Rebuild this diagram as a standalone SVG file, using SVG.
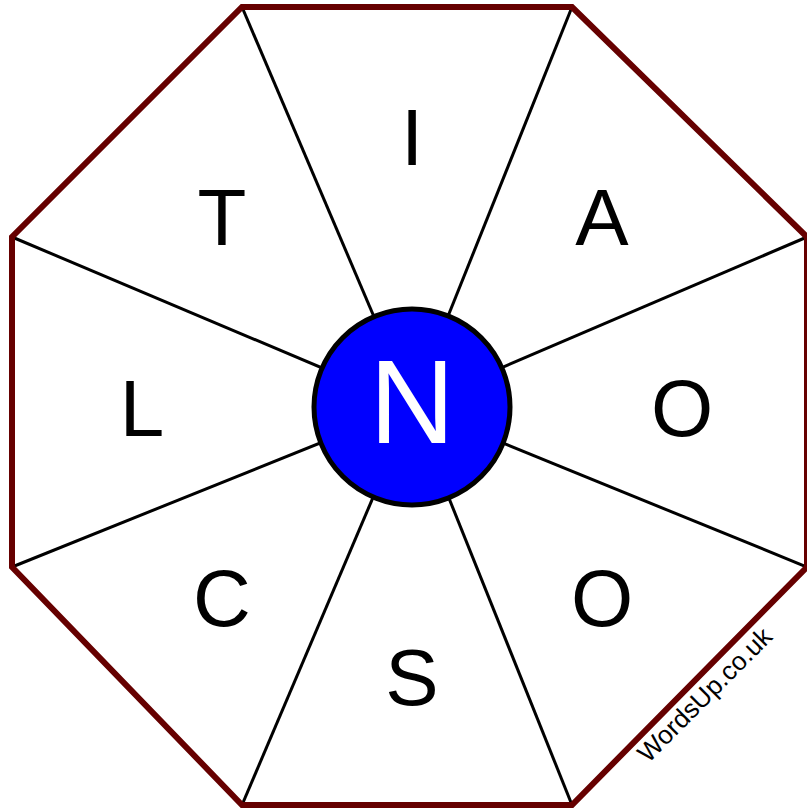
<svg xmlns="http://www.w3.org/2000/svg" width="807" height="810" viewBox="0 0 807 810">
<style>
.spoke{stroke:#000;stroke-width:3;fill:none}
.oct{fill:none;stroke:#660000;stroke-width:6;stroke-linejoin:miter}
.let{font-family:"Liberation Sans",Arial,sans-serif;font-size:80px;fill:#000;text-anchor:middle}
.mid{font-family:"Liberation Sans",Arial,sans-serif;font-size:118px;fill:#fff;text-anchor:middle}
.wm{font-family:"Liberation Sans",Arial,sans-serif;font-size:26px;fill:#000;text-anchor:middle}
</style>
<rect width="807" height="810" fill="#fff"/>
<g id="connectors">
<line class="spoke" x1="412" y1="406" x2="242" y2="7"/>
<line class="spoke" x1="412" y1="406" x2="572" y2="7"/>
<line class="spoke" x1="412" y1="406" x2="807" y2="237"/>
<line class="spoke" x1="412" y1="406" x2="807" y2="567"/>
<line class="spoke" x1="412" y1="406" x2="572" y2="805"/>
<line class="spoke" x1="412" y1="406" x2="242" y2="805"/>
<line class="spoke" x1="412" y1="406" x2="12" y2="567"/>
<line class="spoke" x1="412" y1="406" x2="12" y2="237"/>
</g>
<g id="octagon"><polygon class="oct" points="242,7 572,7 807,237 807,567 572,805 242,805 12,567 12,237"/></g>
<g id="center"><circle cx="412" cy="407" r="98" fill="#0000ff" stroke="#000" stroke-width="5"/><text class="mid" x="412" y="443">N</text></g>
<g id="n-I"><text class="let" x="412" y="165">I</text></g>
<g id="n-A"><text class="let" x="602" y="245">A</text></g>
<g id="n-O1"><text class="let" x="682" y="436">O</text></g>
<g id="n-O2"><text class="let" x="602" y="626">O</text></g>
<g id="n-S"><text class="let" x="412" y="705">S</text></g>
<g id="n-C"><text class="let" x="222" y="626">C</text></g>
<g id="n-L"><text class="let" x="142" y="436">L</text></g>
<g id="n-T"><text class="let" x="222" y="245">T</text></g>
<text class="wm" x="711" y="701" transform="rotate(-45 711 701)">WordsUp.co.uk</text>
</svg>
